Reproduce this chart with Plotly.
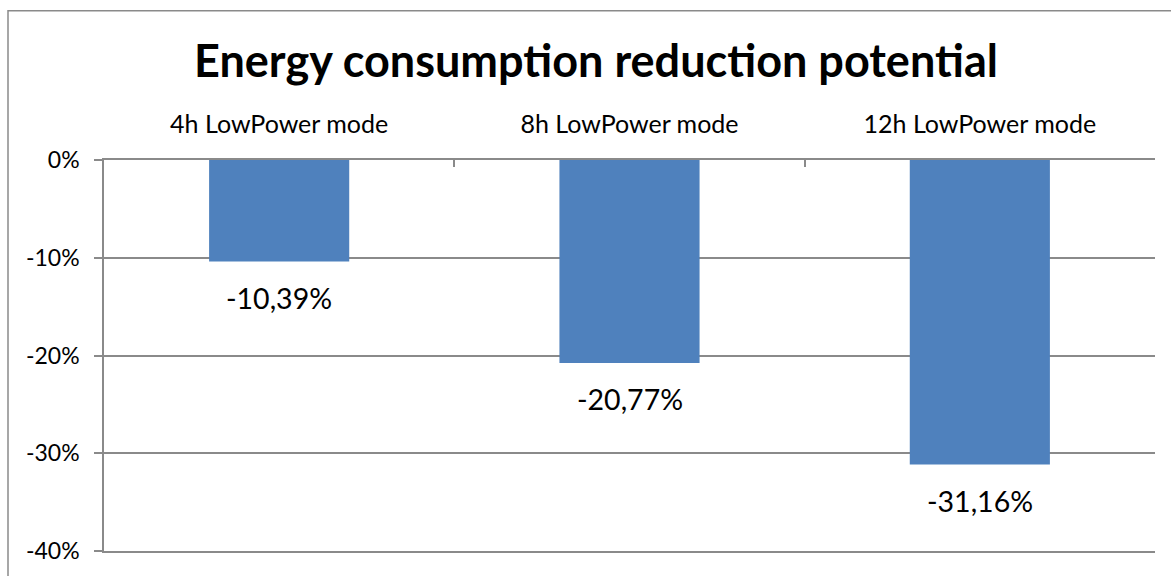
import plotly.graph_objects as go

# Chart data
categories = ["4h LowPower mode", "8h LowPower mode", "12h LowPower mode"]
reduction_pct = [-10.39, -20.77, -31.16]
y_tick_values = [0, -10, -20, -30, -40]
y_tick_labels = ["0%", "-10%", "-20%", "-30%", "-40%"]

W, H = 1171, 576
L, R, T, B = 104, 16, 160, 22
plot_w = W - L - R
plot_h = H - T - B

FONT = "Lato"
GRID = "#8a8a8a"
BAR = "#4F81BD"


def px_to_paper_x(px):
    return (px - L) / plot_w


def px_to_paper_y(py):
    return 1 + (T - py) / plot_h


fig = go.Figure(
    go.Bar(
        x=categories,
        y=reduction_pct,
        marker=dict(color=BAR, line=dict(width=0)),
        hoverinfo="skip",
    )
)

# value labels under each bar end
for cat, v in zip(categories, reduction_pct):
    fig.add_annotation(
        x=cat, y=v, xref="x", yref="y",
        text=f"{v:.2f}%".replace(".", ","),
        showarrow=False, yanchor="middle", yshift=-36,
        font=dict(family=FONT, size=28.5, color="#000000"),
    )

# outer chart frame
fig.add_shape(
    type="rect", xref="paper", yref="paper",
    x0=px_to_paper_x(8), x1=px_to_paper_x(W + 20),
    y0=px_to_paper_y(H + 20), y1=px_to_paper_y(9.5),
    line=dict(color=GRID, width=1.5), layer="below",
)

fig.update_layout(
    width=W, height=H,
    margin=dict(l=L, r=R, t=T, b=B),
    paper_bgcolor="white", plot_bgcolor="white",
    showlegend=False,
    bargap=0.6,
    title=dict(
        text="<b>Energy consumption reduction potential</b>",
        xref="container", yref="container",
        x=596 / W, y=1 - 61 / H,
        xanchor="center", yanchor="middle",
        font=dict(family=FONT, size=45, color="#000000"),
    ),
    xaxis=dict(
        side="top",
        showgrid=False,
        showline=True, mirror=True, linecolor=GRID, linewidth=1.5,
        ticks="inside", tickson="boundaries", ticklen=7,
        tickcolor=GRID, tickwidth=1.5,
        ticklabelstandoff=15,
        tickfont=dict(family=FONT, size=25, color="#000000"),
        fixedrange=True,
    ),
    yaxis=dict(
        range=[-40, 0],
        tickvals=y_tick_values, ticktext=y_tick_labels,
        showgrid=True, gridcolor=GRID, gridwidth=1.5,
        zeroline=False,
        showline=True, linecolor=GRID, linewidth=1.5,
        ticks="outside", ticklen=8, tickcolor=GRID, tickwidth=1.5,
        ticklabelstandoff=10,
        tickfont=dict(family=FONT, size=23, color="#000000"),
        fixedrange=True,
    ),
)

fig.write_html("out.html")
